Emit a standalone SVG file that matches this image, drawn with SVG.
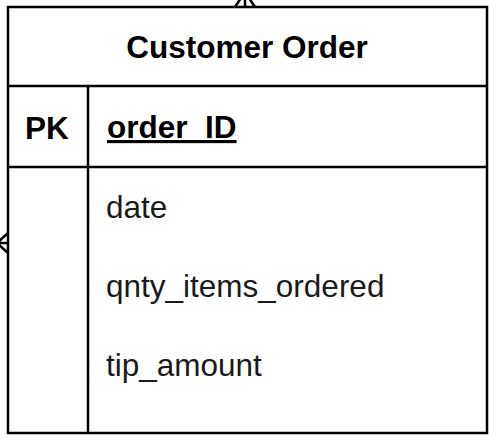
<svg xmlns="http://www.w3.org/2000/svg" width="502" height="444" viewBox="0 0 502 444">
<style>
.ln{stroke:#000;stroke-width:2.5;fill:none}
.bold{font-family:"Liberation Sans",Arial,sans-serif;font-weight:bold;font-size:31.5px;fill:#000}
.attr{font-family:"Liberation Sans",Arial,sans-serif;font-size:31.5px;fill:#1a1a1a}
</style>
<rect width="502" height="444" fill="#fff"/>
<g id="connectors">
<path class="ln" d="M245,-8 L235,7 M245,-8 L255,7 M245,0 L245,7"/>
<path class="ln" d="M-3,243 L8,233 M-3,243 L8,253 M0,243 L8,243"/>
</g>
<g id="customer-order">
<rect class="ln" x="8" y="7" width="479" height="426"/>
<line class="ln" x1="8" y1="86" x2="487" y2="86"/>
<line class="ln" x1="8" y1="167" x2="487" y2="167"/>
<line class="ln" x1="88" y1="86" x2="88" y2="433"/>
<text class="bold" x="247" y="58" text-anchor="middle">Customer Order</text>
<text class="bold" x="47" y="139" text-anchor="middle">PK</text>
<text class="bold" x="107" y="138" text-decoration="underline">order_ID</text>
<text class="attr" x="106" y="218">date</text>
<text class="attr" x="106" y="297">qnty_items_ordered</text>
<text class="attr" x="106" y="376">tip_amount</text>
</g>
</svg>
